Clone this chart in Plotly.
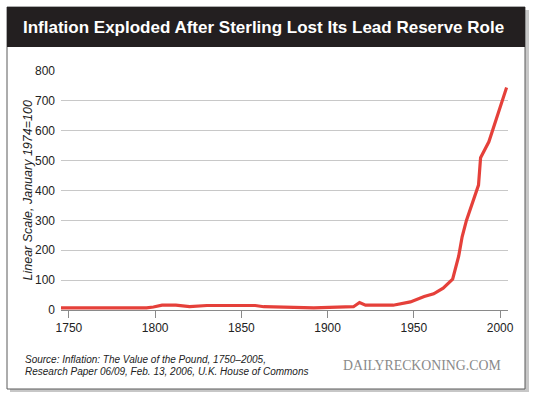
import plotly.graph_objects as go

years = [1745, 1795, 1799, 1804, 1812, 1820, 1830, 1858, 1863, 1880, 1892, 1901, 1912, 1915,
         1918.5, 1922, 1938, 1948, 1956, 1961.5, 1967, 1972.5, 1976, 1978, 1980.5, 1987.5,
         1988.7, 1993.5, 2003.8]
index_values = [7, 7, 10, 16, 16, 11, 15, 15, 11, 9, 7, 9, 10, 11,
                25, 16, 16, 27, 45, 54, 73, 103, 180, 245, 300, 418,
                510, 563, 745]

x_ticks = [1750, 1800, 1850, 1900, 1950, 2000]
y_ticks = [0, 100, 200, 300, 400, 500, 600, 700, 800]

title_text = "Inflation Exploded After Sterling Lost Its Lead Reserve Role"
y_title = "Linear Scale, January 1974=100"
source_lines = ["Source: Inflation: The Value of the Pound, 1750\u20132005,",
                "Research Paper 06/09, Feb. 13, 2006, U.K. House of Commons"]
brand = "DAILYRECKONING.COM"

W, H = 540, 399
L, R, T, B = 61, 508, 71, 310


def px(X):
    return (X - L) / (R - L)


def py(Y):
    return (B - Y) / (B - T)


fig = go.Figure()
fig.add_trace(go.Scatter(x=years, y=index_values, mode="lines",
                         line=dict(color="#e5403a", width=3.2),
                         hoverinfo="skip", showlegend=False))

shapes = [
    # shadow
    dict(type="rect", xref="paper", yref="paper", x0=px(10), x1=px(529), y0=py(392), y1=py(10),
         fillcolor="rgba(0,0,0,0.22)", line=dict(width=0), layer="below"),
    # card
    dict(type="rect", xref="paper", yref="paper", x0=px(7), x1=px(525), y0=py(389), y1=py(7),
         fillcolor="white", line=dict(color="#5a5a5a", width=1), layer="below"),
    # header
    dict(type="rect", xref="paper", yref="paper", x0=px(7), x1=px(525), y0=py(47), y1=py(7),
         fillcolor="#231f20", line=dict(width=0), layer="below"),
]

font_sans = "Liberation Sans, Arial, sans-serif"
annotations = [
    dict(text=title_text, xref="paper", yref="paper", x=px(263.5), y=py(27.5),
         xanchor="center", yanchor="middle", showarrow=False,
         font=dict(family=font_sans, size=17, color="white", weight="bold")),
    dict(text=y_title, xref="paper", yref="paper", x=px(27), y=py(190.5),
         xanchor="center", yanchor="middle", showarrow=False, textangle=-90,
         font=dict(family=font_sans, size=12.5, color="#222", style="italic")),
    dict(text=source_lines[0], xref="paper", yref="paper", x=px(23), y=py(359),
         xanchor="left", yanchor="middle", showarrow=False,
         font=dict(family=font_sans, size=10, color="#222", style="italic")),
    dict(text=source_lines[1], xref="paper", yref="paper", x=px(23), y=py(371),
         xanchor="left", yanchor="middle", showarrow=False,
         font=dict(family=font_sans, size=10, color="#222", style="italic")),
    dict(text=brand, xref="paper", yref="paper", x=px(503), y=py(365),
         xanchor="right", yanchor="middle", showarrow=False,
         font=dict(family="Liberation Serif, Times New Roman, serif", size=13.8, color="#8a8a8a")),
]

fig.update_layout(
    width=W, height=H,
    margin=dict(l=L, r=W - R, t=T, b=H - B),
    paper_bgcolor="white", plot_bgcolor="white",
    shapes=shapes, annotations=annotations,
    font=dict(family=font_sans, size=12, color="#222"),
)
fig.update_xaxes(range=[1745.4, 2004.6], tickvals=x_ticks, ticktext=[str(v) for v in x_ticks],
                 showgrid=False, zeroline=False, showline=True, linecolor="#8a8a8a", linewidth=1,
                 ticks="outside", ticklen=7, tickcolor="#8a8a8a", tickwidth=1,
                 tickfont=dict(family=font_sans, size=12, color="#222"))
fig.update_yaxes(range=[0, 800], tickvals=y_ticks, ticktext=[str(v) for v in y_ticks],
                 showgrid=True, gridcolor="#c8c8c8", gridwidth=1, zeroline=False, showline=False,
                 ticks="", ticklabelstandoff=5,
                 tickfont=dict(family=font_sans, size=12, color="#222"))

fig.write_html("out.html", config={"displayModeBar": False},
               post_script="document.body.style.margin='0';document.body.style.overflow='hidden';")
